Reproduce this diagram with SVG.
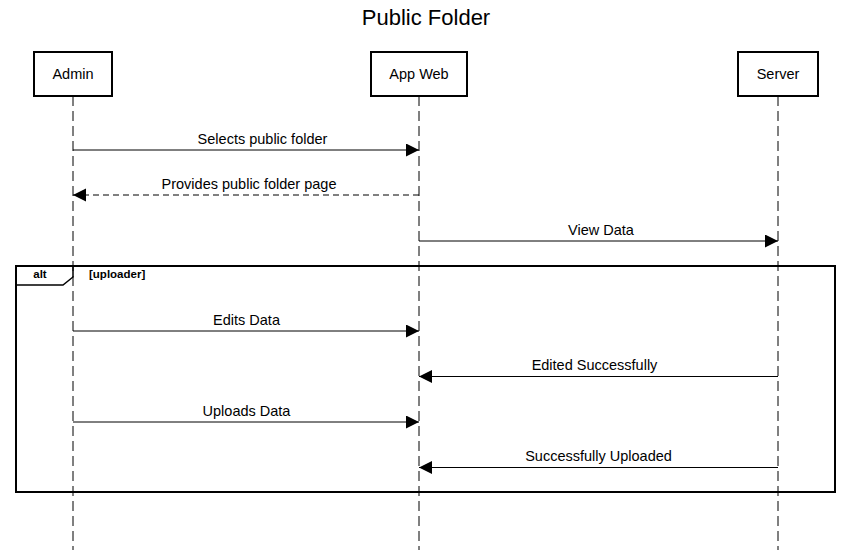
<svg xmlns="http://www.w3.org/2000/svg" width="851" height="550" viewBox="0 0 851 550">
<style>
  text { font-family: "Liberation Sans", Arial, sans-serif; fill: #000; }
  .title { font-size: 22px; text-anchor: middle; }
  .lbl { font-size: 14.5px; text-anchor: middle; }
  .box { fill: #fff; stroke: #000; stroke-width: 2; }
  .life { stroke: #000; stroke-width: 1; stroke-dasharray: 10 5; fill: none; }
  .msg { stroke: #000; stroke-width: 1; fill: none; marker-end: url(#arr); }
  .ret { stroke-dasharray: 6 4; }
  .frame { fill: none; stroke: #000; stroke-width: 2; }
  .small { font-size: 11.5px; font-weight: bold; }
</style>
<defs>
  <marker id="arr" markerUnits="userSpaceOnUse" markerWidth="14" markerHeight="14" refX="13" refY="6.5" orient="auto">
    <path d="M0,0 L13,6.5 L0,13 Z" fill="#000"/>
  </marker>
</defs>
<rect width="851" height="550" fill="#fff"/>
<text class="title" x="426" y="25">Public Folder</text>

<g id="lifelines">
  <line class="life" x1="73" y1="96" x2="73" y2="550"/>
  <line class="life" x1="419" y1="96" x2="419" y2="550"/>
  <line class="life" x1="778" y1="96" x2="778" y2="550"/>
</g>

<g id="admin">
  <rect class="box" x="34" y="52" width="78" height="44"/>
  <text class="lbl" x="73" y="79">Admin</text>
</g>
<g id="appweb">
  <rect class="box" x="371" y="52" width="96" height="44"/>
  <text class="lbl" x="419" y="79">App Web</text>
</g>
<g id="server">
  <rect class="box" x="738" y="52" width="80" height="44"/>
  <text class="lbl" x="778" y="79">Server</text>
</g>

<g id="alt-frame">
  <rect class="frame" x="16" y="266" width="819" height="226"/>
  <path d="M16,285 L63,285 L73,277 L73,266" fill="none" stroke="#000" stroke-width="1.5"/>
  <text class="small" x="40" y="278" text-anchor="middle">alt</text>
  <text class="small" x="89" y="278">[uploader]</text>
</g>

<g id="connectors">
  <line class="msg" x1="73" y1="150" x2="419" y2="150"/>
  <text class="lbl" x="262.5" y="143.5">Selects public folder</text>

  <line class="msg ret" x1="419" y1="195" x2="73" y2="195"/>
  <text class="lbl" x="249" y="188.5">Provides public folder page</text>

  <line class="msg" x1="419" y1="241" x2="778" y2="241"/>
  <text class="lbl" x="601" y="234.5">View Data</text>

  <line class="msg" x1="73" y1="331" x2="419" y2="331"/>
  <text class="lbl" x="246.5" y="324.5">Edits Data</text>

  <line class="msg" x1="778" y1="376.5" x2="419" y2="376.5"/>
  <text class="lbl" x="594.5" y="370">Edited Successfully</text>

  <line class="msg" x1="73" y1="422" x2="419" y2="422"/>
  <text class="lbl" x="246.5" y="415.5">Uploads Data</text>

  <line class="msg" x1="778" y1="467.5" x2="419" y2="467.5"/>
  <text class="lbl" x="598.5" y="461">Successfully Uploaded</text>
</g>
</svg>
